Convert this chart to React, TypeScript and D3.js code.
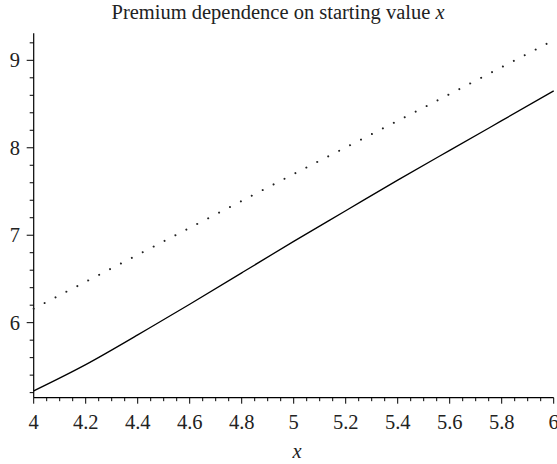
import React, { useEffect, useRef } from "react";
import * as d3 from "d3";

const solidX = [4.0, 4.2, 4.4, 4.6, 4.8, 5.0, 5.2, 5.4, 5.6, 5.8, 6.0];
const solidY = [5.22, 5.52, 5.86, 6.21, 6.57, 6.93, 7.28, 7.63, 7.97, 8.31, 8.65];
const dottedX = [4.0, 4.5, 5.0, 5.5, 6.0];
const dottedY = [6.16, 6.93, 7.7, 8.46, 9.23];
const xMajorTicks = [4, 4.2, 4.4, 4.6, 4.8, 5, 5.2, 5.4, 5.6, 5.8, 6];
const yMajorTicks = [6, 7, 8, 9];
const titleText = "Premium dependence on starting value ";
const axisLabel = "x";

const W = 557;
const H = 464;

export default function App() {
  const ref = useRef<SVGSVGElement>(null);
  useEffect(() => {
    const svg = d3.select(ref.current);
    svg.selectAll("*").remove();
    const font = "'Liberation Serif', 'DejaVu Serif', serif";
    const fs = 20.5;
    const x = d3.scaleLinear().domain([4, 6]).range([33.7, 553.7]);
    const y = d3.scaleLinear().domain([5.142, 9.309]).range([397.7, 33.3]);

    svg.append("line").attr("x1", x(4)).attr("x2", x(6)).attr("y1", y(5.142)).attr("y2", y(5.142))
      .attr("stroke", "#000").attr("stroke-width", 1.2);
    svg.append("line").attr("x1", x(4)).attr("x2", x(4)).attr("y1", y(5.142)).attr("y2", y(9.309))
      .attr("stroke", "#000").attr("stroke-width", 1.2);

    const xMinor = d3.range(0, 41).map((i) => 4 + i * 0.05);
    const y0 = y(5.142);
    xMinor.forEach((v) => {
      const major = xMajorTicks.some((t) => Math.abs(t - v) < 1e-6);
      svg.append("line").attr("x1", x(v)).attr("x2", x(v)).attr("y1", y0).attr("y2", y0 + (major ? 6 : 3.5))
        .attr("stroke", "#000").attr("stroke-width", 1);
    });
    xMajorTicks.forEach((v) => {
      svg.append("text").attr("x", x(v)).attr("y", 429).attr("text-anchor", "middle")
        .attr("font-family", font).attr("font-size", fs).attr("fill", "#222").text(d3.format("~g")(v));
    });

    const yMinor = d3.range(0, 21).map((i) => 5.2 + i * 0.2);
    const x0 = x(4);
    yMinor.forEach((v) => {
      const major = yMajorTicks.some((t) => Math.abs(t - v) < 1e-6);
      svg.append("line").attr("x1", x0).attr("x2", x0 - (major ? 7 : 4)).attr("y1", y(v)).attr("y2", y(v))
        .attr("stroke", "#000").attr("stroke-width", 1);
    });
    yMajorTicks.forEach((v) => {
      svg.append("text").attr("x", 20).attr("y", y(v)).attr("dy", "0.35em").attr("text-anchor", "end")
        .attr("font-family", font).attr("font-size", fs).attr("fill", "#222").text(String(v));
    });

    const solid = d3.line<number>().x((d, i) => x(solidX[i])).y((d) => y(d)).curve(d3.curveNatural);
    svg.append("path").attr("d", solid(solidY)).attr("fill", "none").attr("stroke", "#000").attr("stroke-width", 1.3);

    const dotted = d3.line<number>().x((d, i) => x(dottedX[i])).y((d) => y(d));
    svg.append("path").attr("d", dotted(dottedY)).attr("fill", "none").attr("stroke", "#222")
      .attr("stroke-width", 2).attr("stroke-linecap", "round").attr("stroke-dasharray", "0.01 12.27");

    const t = svg.append("text").attr("x", 278).attr("y", 19).attr("text-anchor", "middle")
      .attr("font-family", font).attr("font-size", fs).attr("fill", "#222");
    t.append("tspan").text(titleText);
    t.append("tspan").attr("font-style", "italic").text("x");

    svg.append("text").attr("x", 297).attr("y", 458).attr("text-anchor", "middle")
      .attr("font-family", font).attr("font-size", fs).attr("font-style", "italic").attr("fill", "#222").text(axisLabel);
  }, []);
  return (
    <svg ref={ref} width={W} height={H} style={{ position: "absolute", left: 0, top: 0, background: "#fff" }} />
  );
}
